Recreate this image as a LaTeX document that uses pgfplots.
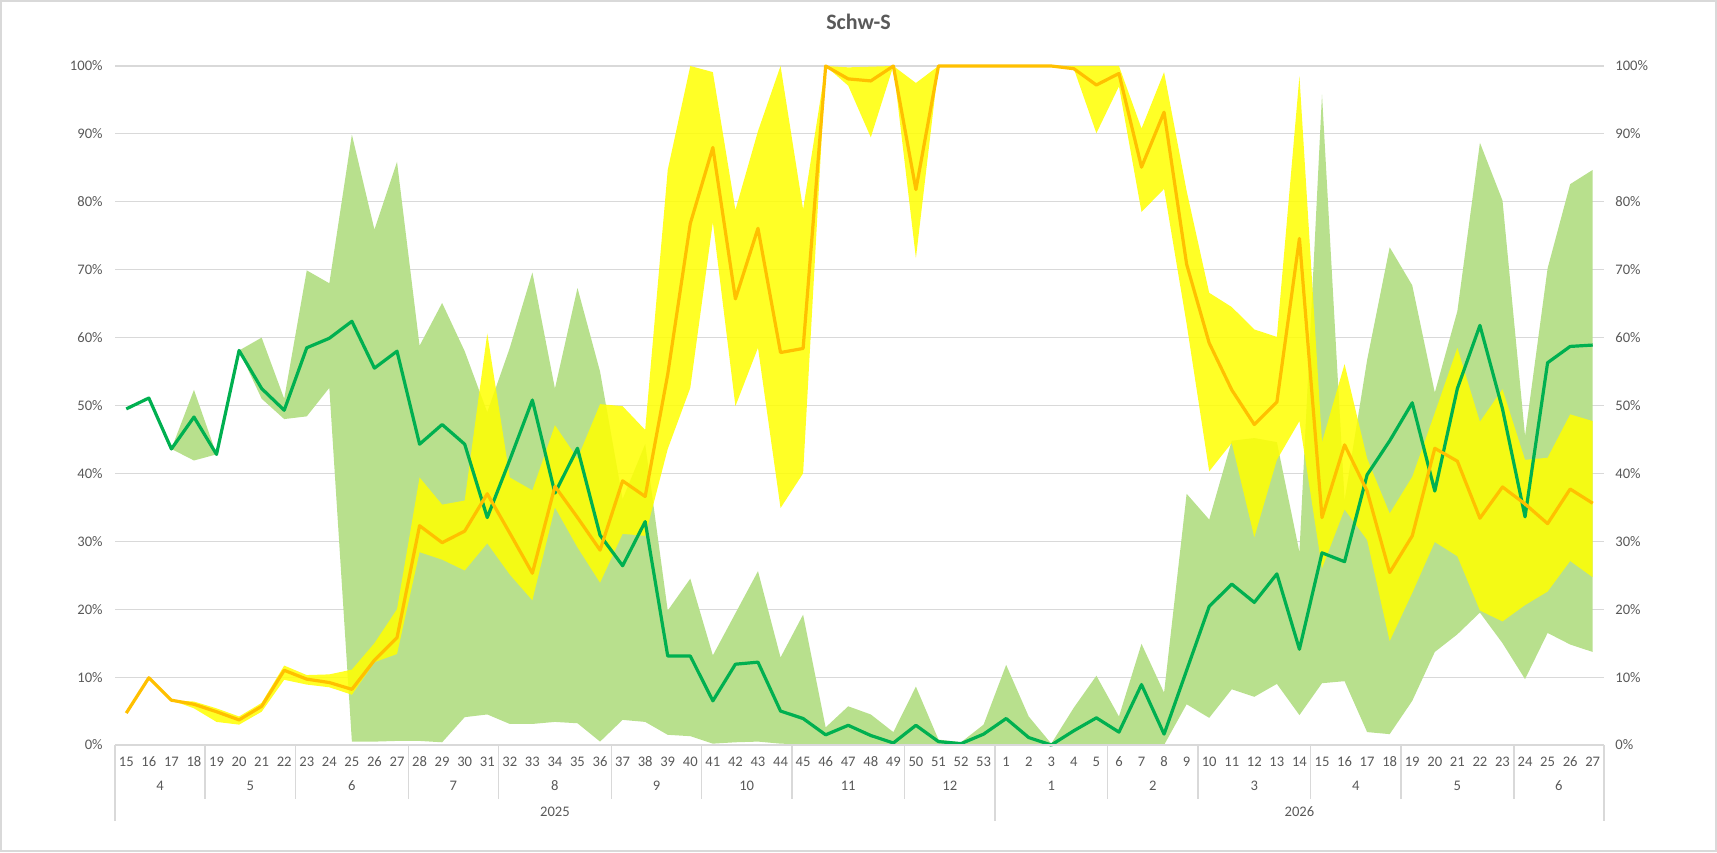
\documentclass[border=0pt]{standalone}
\usepackage{fontspec}
\setmainfont{Carlito}
\usepackage{pgfplots}
\pgfplotsset{compat=1.18}
\usepackage{pgfplotstable}
\usepgfplotslibrary{fillbetween}

\definecolor{gridc}{HTML}{D9D9D9}
\definecolor{txt}{HTML}{595959}
\definecolor{gband}{HTML}{B8E08D}
\definecolor{yband}{HTML}{FFFF00}
\definecolor{gline}{HTML}{00B050}
\definecolor{oline}{HTML}{FFC000}

\pgfplotstableread{
i glo ghi gl ylo yhi ol
0 49.5 49.5 49.5 4.7 4.7 4.7
1 51.1 51.1 51.1 9.9 9.9 9.9
2 43.6 43.6 43.6 6.6 6.6 6.6
3 41.9 52.3 48.3 5.4 6.4 6.0
4 42.8 42.8 42.8 3.4 5.4 4.9
5 58.1 58.1 58.1 3.0 4.2 3.7
6 51.0 60.0 52.5 4.9 6.2 5.7
7 48.0 51.0 49.3 9.6 11.7 11.0
8 48.4 69.9 58.5 8.9 10.3 9.7
9 52.6 68.0 59.9 8.5 10.4 9.2
10 0.5 89.9 62.4 7.4 11.1 8.2
11 0.5 75.9 55.5 12.2 15.0 12.5
12 0.6 85.9 58.0 13.4 20.0 15.8
13 0.6 58.8 44.3 28.4 39.4 32.3
14 0.4 65.1 47.2 27.3 35.4 29.8
15 4.1 58.0 44.3 25.7 36.0 31.5
16 4.5 49.0 33.5 29.7 60.6 37.0
17 3.1 58.5 42.0 25.1 39.4 31.2
18 3.1 69.6 50.8 21.3 37.5 25.3
19 3.4 52.5 37.1 35.0 47.1 38.1
20 3.2 67.3 43.7 29.1 42.2 33.5
21 0.5 55.0 30.9 23.9 50.2 28.7
22 3.7 36.2 26.4 31.1 49.9 38.9
23 3.4 44.3 32.9 30.8 46.4 36.6
24 1.5 19.8 13.1 43.6 84.7 54.6
25 1.3 24.5 13.1 52.6 100 76.8
26 0.2 13.2 6.5 77.0 99.1 88.0
27 0.4 19.4 11.9 49.9 78.8 65.7
28 0.5 25.6 12.2 58.5 90.4 76.1
29 0.2 12.9 5.0 34.9 100 57.8
30 0.1 19.2 3.9 40.0 78.9 58.4
31 0 2.6 1.5 100 100 100
32 0 5.7 2.9 97.1 99.8 98.1
33 0 4.5 1.4 89.5 99.9 97.8
34 0 1.9 0.3 100 100 100
35 0 8.6 2.9 71.7 97.5 81.8
36 0 0.8 0.5 100 100 100
37 0 0.4 0.2 100 100 100
38 0 3.0 1.6 100 100 100
39 0 11.8 3.9 100 100 100
40 0 4.2 1.1 100 100 100
41 0 0.2 0 100 100 100
42 0 5.5 2.1 99.6 100 99.6
43 0 10.2 4.0 90.1 100 97.2
44 0 4.2 1.9 97.0 100 98.9
45 0 14.9 8.9 78.5 90.8 85.1
46 0 7.7 1.6 81.9 99.1 93.2
47 6.0 37.0 11.0 62.0 81.6 70.8
48 4.0 33.2 20.4 40.3 66.6 59.2
49 8.2 44.8 23.7 44.5 64.5 52.3
50 7.1 45.2 21.0 30.6 61.2 47.2
51 9.0 44.6 25.2 42.0 60.1 50.5
52 4.4 28.4 14.1 47.7 98.5 74.6
53 9.1 95.8 28.3 26.0 44.6 33.5
54 9.4 36.0 27.0 34.7 56.1 44.2
55 1.9 56.7 39.8 30.2 42.2 37.4
56 1.6 73.3 44.8 15.3 34.1 25.4
57 6.5 67.7 50.4 22.4 39.5 30.8
58 13.7 51.9 37.4 29.9 48.9 43.7
59 16.3 63.9 52.5 27.8 58.5 41.8
60 19.5 88.7 61.8 19.8 47.6 33.4
61 15.0 80.2 49.5 18.2 52.4 38.0
62 9.7 45.5 33.6 20.6 42.0 35.5
63 16.5 70.2 56.3 22.6 42.3 32.6
64 14.8 82.6 58.7 27.1 48.7 37.7
65 13.7 84.7 58.9 24.7 47.7 35.6
}\data

\newcommand{\tickfont}{\fontsize{7.3}{8.5}\selectfont}

\begin{document}
\begin{tikzpicture}
\path (0,0) rectangle (858.5pt,426pt);
\draw[gridc, line width=0.75pt] (0.4pt,0.4pt) rectangle (858.1pt,425.6pt);
\node[font=\fontsize{11}{13}\selectfont\bfseries, text=txt] at (429.25pt,415pt) {Schw-S};

\begin{axis}[
  at={(57.5pt,53.5pt)}, anchor=south west,
  scale only axis, width=744.5pt, height=339.5pt,
  xmin=-0.5, xmax=65.5, ymin=0, ymax=100,
  axis line style={draw=none},
  major tick length=0pt,
  ytick={0,10,...,100},
  ymajorgrids,
  grid style={gridc, line width=0.6pt},
  /pgf/number format/assume math mode=true,
  yticklabel={\pgfmathprintnumber{\tick}\%},
  yticklabel style={font=\tickfont, text=txt, anchor=east, inner sep=0pt, xshift=-6pt},
  xtick={0,...,65},
  xticklabels={15,16,17,18,19,20,21,22,23,24,25,26,27,28,29,30,31,32,33,34,35,36,37,38,39,40,41,42,43,44,45,46,47,48,49,50,51,52,53,1,2,3,4,5,6,7,8,9,10,11,12,13,14,15,16,17,18,19,20,21,22,23,24,25,26,27},
  xticklabel style={font=\tickfont, text=txt, anchor=center, inner sep=0pt, yshift=-8.5pt},
  clip=false,
]
\addplot[draw=none, name path=ghi, forget plot] table[x=i,y=ghi]{\data};
\addplot[draw=none, name path=glo, forget plot] table[x=i,y=glo]{\data};
\addplot[fill=gband, draw=none] fill between[of=ghi and glo];
\addplot[draw=none, name path=yhi, forget plot] table[x=i,y=yhi]{\data};
\addplot[draw=none, name path=ylo, forget plot] table[x=i,y=ylo]{\data};
\addplot[fill=yband, fill opacity=0.85, draw=none] fill between[of=yhi and ylo];
\addplot[gline, line width=1.6pt, line join=round] table[x=i,y=gl]{\data};
\addplot[oline, line width=1.6pt, line join=round] table[x=i,y=ol]{\data};

\draw[gridc, line width=0.75pt] (axis cs:-0.5,0) -- (axis cs:65.5,0);
% month separators
\draw[gridc, line width=0.75pt] (axis cs:3.5,0) -- ++(0pt,-27.2pt);
\draw[gridc, line width=0.75pt] (axis cs:7.5,0) -- ++(0pt,-27.2pt);
\draw[gridc, line width=0.75pt] (axis cs:12.5,0) -- ++(0pt,-27.2pt);
\draw[gridc, line width=0.75pt] (axis cs:16.5,0) -- ++(0pt,-27.2pt);
\draw[gridc, line width=0.75pt] (axis cs:21.5,0) -- ++(0pt,-27.2pt);
\draw[gridc, line width=0.75pt] (axis cs:25.5,0) -- ++(0pt,-27.2pt);
\draw[gridc, line width=0.75pt] (axis cs:29.5,0) -- ++(0pt,-27.2pt);
\draw[gridc, line width=0.75pt] (axis cs:34.5,0) -- ++(0pt,-27.2pt);
\draw[gridc, line width=0.75pt] (axis cs:43.5,0) -- ++(0pt,-27.2pt);
\draw[gridc, line width=0.75pt] (axis cs:47.5,0) -- ++(0pt,-27.2pt);
\draw[gridc, line width=0.75pt] (axis cs:52.5,0) -- ++(0pt,-27.2pt);
\draw[gridc, line width=0.75pt] (axis cs:56.5,0) -- ++(0pt,-27.2pt);
\draw[gridc, line width=0.75pt] (axis cs:61.5,0) -- ++(0pt,-27.2pt);
% year separators
\draw[gridc, line width=0.75pt] (axis cs:-0.5,0) -- ++(0pt,-38.1pt);
\draw[gridc, line width=0.75pt] (axis cs:38.5,0) -- ++(0pt,-38.1pt);
\draw[gridc, line width=0.75pt] (axis cs:65.5,0) -- ++(0pt,-38.1pt);
% month labels
\node[font=\tickfont, text=txt, inner sep=0pt] at ([yshift=-20.5pt]axis cs:1.5,0) {4};
\node[font=\tickfont, text=txt, inner sep=0pt] at ([yshift=-20.5pt]axis cs:5.5,0) {5};
\node[font=\tickfont, text=txt, inner sep=0pt] at ([yshift=-20.5pt]axis cs:10,0) {6};
\node[font=\tickfont, text=txt, inner sep=0pt] at ([yshift=-20.5pt]axis cs:14.5,0) {7};
\node[font=\tickfont, text=txt, inner sep=0pt] at ([yshift=-20.5pt]axis cs:19,0) {8};
\node[font=\tickfont, text=txt, inner sep=0pt] at ([yshift=-20.5pt]axis cs:23.5,0) {9};
\node[font=\tickfont, text=txt, inner sep=0pt] at ([yshift=-20.5pt]axis cs:27.5,0) {10};
\node[font=\tickfont, text=txt, inner sep=0pt] at ([yshift=-20.5pt]axis cs:32,0) {11};
\node[font=\tickfont, text=txt, inner sep=0pt] at ([yshift=-20.5pt]axis cs:36.5,0) {12};
\node[font=\tickfont, text=txt, inner sep=0pt] at ([yshift=-20.5pt]axis cs:41,0) {1};
\node[font=\tickfont, text=txt, inner sep=0pt] at ([yshift=-20.5pt]axis cs:45.5,0) {2};
\node[font=\tickfont, text=txt, inner sep=0pt] at ([yshift=-20.5pt]axis cs:50,0) {3};
\node[font=\tickfont, text=txt, inner sep=0pt] at ([yshift=-20.5pt]axis cs:54.5,0) {4};
\node[font=\tickfont, text=txt, inner sep=0pt] at ([yshift=-20.5pt]axis cs:59,0) {5};
\node[font=\tickfont, text=txt, inner sep=0pt] at ([yshift=-20.5pt]axis cs:63.5,0) {6};
% year labels
\node[font=\tickfont, text=txt, inner sep=0pt] at ([yshift=-33.5pt]axis cs:19,0) {2025};
\node[font=\tickfont, text=txt, inner sep=0pt] at ([yshift=-33.5pt]axis cs:52,0) {2026};
\end{axis}

\begin{axis}[
  at={(57.5pt,53.5pt)}, anchor=south west,
  scale only axis, width=744.5pt, height=339.5pt,
  xmin=-0.5, xmax=65.5, ymin=0, ymax=100,
  hide x axis,
  axis y line*=right,
  y axis line style={draw=none},
  major tick length=0pt,
  ytick={0,10,...,100},
  /pgf/number format/assume math mode=true,
  yticklabel={\pgfmathprintnumber{\tick}\%},
  yticklabel style={font=\tickfont, text=txt, anchor=west, inner sep=0pt, xshift=5.5pt},
]
\addplot[draw=none] coordinates {(0,0) (65,100)};
\end{axis}
\end{tikzpicture}
\end{document}
